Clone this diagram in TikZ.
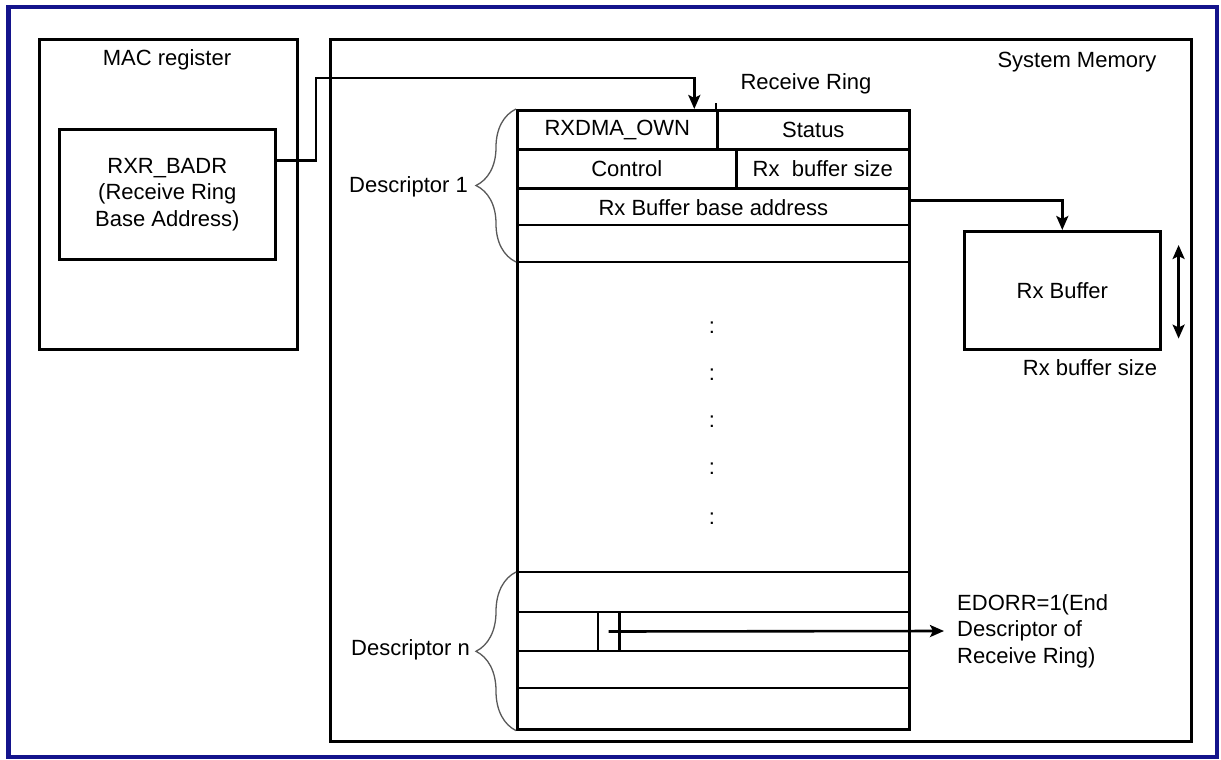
\documentclass[tikz,border=0pt]{standalone}
\usepackage{fontspec}
\setmainfont{Liberation Sans}
\usepackage{tikz}
\usetikzlibrary{arrows.meta, positioning, decorations.pathreplacing}
\definecolor{framecol}{RGB}{20,20,140}
\tikzset{box/.style={draw, line width=2.6pt, inner sep=0pt}}
\tikzset{cell/.style={draw, line width=2.6pt, inner sep=0pt, anchor=north west}}
\tikzset{rule/.style={line width=2.6pt}, hair/.style={line width=1.2pt}}
\tikzset{arr/.style={draw, ->, line width=2.6pt}}
\tikzset{brc/.style={decorate, decoration={brace, amplitude=40pt}, draw=black!65, line width=1.3pt}}
\tikzset{txt/.style={inner sep=0pt}}

\begin{document}
\begin{tikzpicture}[x=1pt, y=-1pt, font=\fontsize{22}{26.5}\selectfont,
    >={Stealth[length=14pt, width=12pt, inset=3pt]}]
    \useasboundingbox (0,0) rectangle (1221,760);
    \draw[framecol, line width=4.5pt] (8.5,7) rectangle (1217,757);

    \node[box, minimum width=258, minimum height=310, anchor=north west] (mac) at (38,38) {};
    \node[txt] (mactitle) at (167,60) {MAC register};
    \node[box, align=center, minimum width=216, minimum height=130, anchor=north west] (badr) at (58,128) {RXR\_BADR\\(Receive Ring\\Base Address)};

    \node[box, minimum width=861, minimum height=702, anchor=north west] (sysmem) at (329,38) {};
    \node[txt] (sysmemtitle) at (1077,62) {System Memory};
    \node[txt] (ringtitle) at (806,84) {Receive Ring};

    % receive ring
    \node[box, minimum width=392, minimum height=619, anchor=north west] (ring) at (516,109) {};
    \draw[rule] (716,103) -- (716,109);
    \node[cell, minimum width=200, minimum height=39] (own) at (516,109) {RXDMA\_OWN};
    \node[cell, minimum width=192, minimum height=39] (status) at (716,109) {Status};
    \node[cell, minimum width=219, minimum height=39] (ctrl) at (516,148) {Control};
    \node[cell, minimum width=173, minimum height=39] (bsize) at (735,148) {Rx\ \ buffer size};
    \node[cell, draw=none, minimum width=392, minimum height=38] (base) at (516,187) {Rx Buffer base address};
    \draw[hair] (516,225) -- (908,225);
    \draw[rule] (516,262) -- (908,262);
    \foreach \y [count=\i] in {328,375,422,469,519}
        \node[txt] (dot\i) at (712,\y) {:};
    \draw[rule] (516,572) -- (908,572);
    \draw[hair] (516,612) -- (908,612);
    \draw[rule] (516,651) -- (908,651);
    \draw[rule] (516,688) -- (908,688);
    \node[minimum width=21, minimum height=39, inner sep=0pt] (eor) at (608.5,631.5) {};
    \draw[rule] (eor.north west) -- (eor.south west) (eor.north east) -- (eor.south east);

    \draw[brc] (516,262) -- (ring.north west);
    \node[txt, anchor=east] (desc1) at (468,187) {Descriptor 1};
    \draw[brc] (ring.south west) -- (516,572);
    \node[txt, anchor=east] (descn) at (470,650) {Descriptor n};

    % buffer
    \node[box, minimum width=196, minimum height=118, anchor=north west] (buf) at (963,230) {Rx Buffer};
    \node[txt] (buflabel) at (1090,368) {Rx buffer size};
    \node[txt, align=left, anchor=west] (edorr) at (957,631) {EDORR=1(End\\Descriptor of\\Receive Ring)};

    \draw[arr] ([yshift=34pt]badr.east) -| (316,78) -| ([xshift=77pt]own.north);
    \draw[arr] ([yshift=7pt]base.east) -| (buf.north);
    \draw[arr, <->] ([xshift=17pt, yshift=-15pt]buf.north east) -- ([xshift=17pt, yshift=12pt]buf.south east);
    \draw[arr] (eor.center) -- ([xshift=-13pt]edorr.west);
\end{tikzpicture}
\end{document}
